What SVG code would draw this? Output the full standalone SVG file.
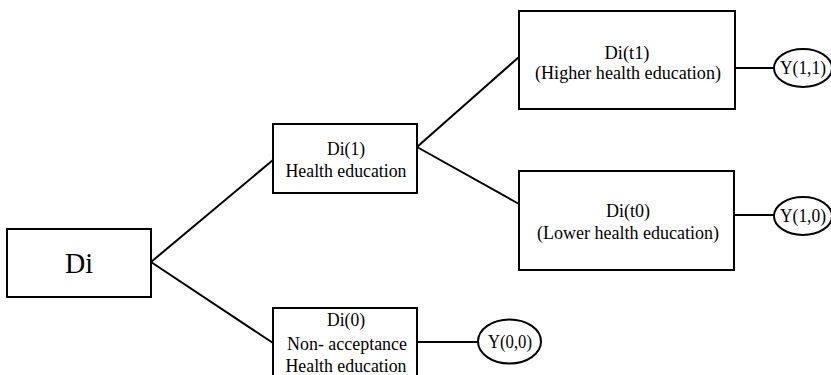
<svg xmlns="http://www.w3.org/2000/svg" width="831" height="375" viewBox="0 0 831 375">
<style>
.box{fill:#fff;stroke:#000;stroke-width:2}
.ell{fill:#fff;stroke:#000;stroke-width:2}
.ln{stroke:#000;stroke-width:2;fill:none}
.t{font-family:'Liberation Serif','Times New Roman','DejaVu Serif',serif;font-size:18px;fill:#000;text-anchor:middle}
.big{font-size:30px}
</style>
<rect width="831" height="375" fill="#fff"/>
<g id="connectors">
<line class="ln" x1="151" y1="262" x2="273" y2="160"/>
<line class="ln" x1="151" y1="262" x2="273" y2="343"/>
<line class="ln" x1="417" y1="147" x2="519" y2="57"/>
<line class="ln" x1="417" y1="147" x2="519" y2="204"/>
<line class="ln" x1="735" y1="68" x2="774" y2="68"/>
<line class="ln" x1="734" y1="215" x2="774" y2="215"/>
<line class="ln" x1="417" y1="342" x2="478" y2="342"/>
</g>
<g id="di">
<rect class="box" x="7" y="229" width="144" height="68"/>
<text class="t big" x="79" y="273" textLength="28" lengthAdjust="spacingAndGlyphs">Di</text>
</g>
<g id="di1">
<rect class="box" x="273" y="124" width="144" height="69"/>
<text class="t" x="346" y="155" textLength="38" lengthAdjust="spacingAndGlyphs">Di(1)</text>
<text class="t" x="346" y="177" textLength="121" lengthAdjust="spacingAndGlyphs">Health education</text>
</g>
<g id="di0">
<rect class="box" x="273" y="308" width="144" height="80"/>
<text class="t" x="346" y="326" textLength="38" lengthAdjust="spacingAndGlyphs">Di(0)</text>
<text class="t" x="347" y="350" textLength="120" lengthAdjust="spacingAndGlyphs">Non- acceptance</text>
<text class="t" x="346" y="372" textLength="121" lengthAdjust="spacingAndGlyphs">Health education</text>
</g>
<g id="dit1">
<rect class="box" x="519" y="11" width="216" height="98"/>
<text class="t" x="627" y="59" textLength="45" lengthAdjust="spacingAndGlyphs">Di(t1)</text>
<text class="t" x="628" y="79" textLength="186" lengthAdjust="spacingAndGlyphs">(Higher health education)</text>
</g>
<g id="dit0">
<rect class="box" x="519" y="171" width="215" height="99"/>
<text class="t" x="628" y="217" textLength="44" lengthAdjust="spacingAndGlyphs">Di(t0)</text>
<text class="t" x="628" y="239" textLength="182" lengthAdjust="spacingAndGlyphs">(Lower health education)</text>
</g>
<g id="y11">
<ellipse class="ell" cx="803" cy="68" rx="29" ry="19"/>
<text class="t" x="803" y="74" textLength="46" lengthAdjust="spacingAndGlyphs">Y(1,1)</text>
</g>
<g id="y10">
<ellipse class="ell" cx="803" cy="216" rx="29" ry="19"/>
<text class="t" x="803" y="222" textLength="46" lengthAdjust="spacingAndGlyphs">Y(1,0)</text>
</g>
<g id="y00">
<ellipse class="ell" cx="509.5" cy="341.5" rx="31.5" ry="22"/>
<text class="t" x="510" y="348" textLength="44" lengthAdjust="spacingAndGlyphs">Y(0,0)</text>
</g>
</svg>
